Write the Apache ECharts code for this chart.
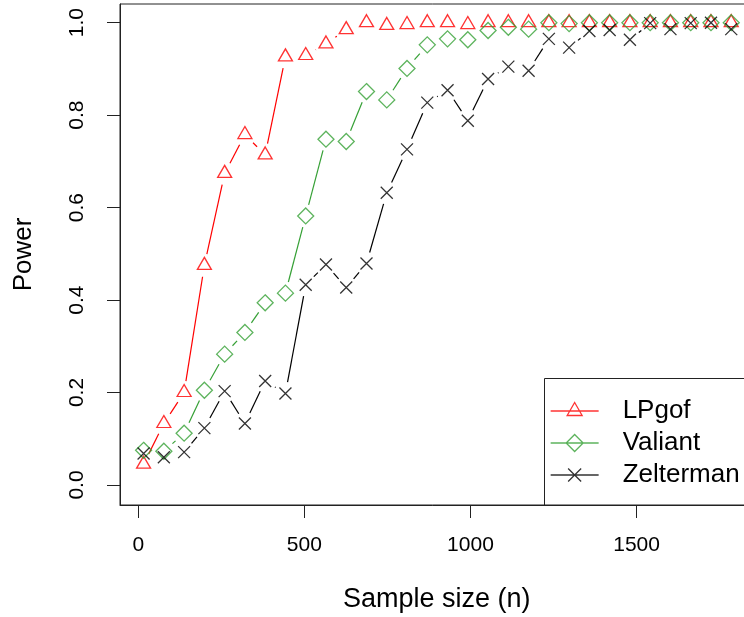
<!DOCTYPE html>
<html><head><meta charset="utf-8">
<script src="https://cdn.jsdelivr.net/npm/echarts@6/dist/echarts.min.js"></script>
<style>html,body{margin:0;padding:0;background:#fff}#c{width:744px;height:617px}</style>
</head><body><div id="c"></div>
<script>
// ---- data ----
const sampleSize = [16, 77, 138, 199, 260, 321, 382, 443, 504, 565, 626, 687, 748, 809, 870, 931, 992, 1053, 1114, 1175, 1236, 1297, 1358, 1419, 1480, 1541, 1602, 1663, 1724, 1785];
const lpgof = [0.045, 0.133, 0.200, 0.475, 0.674, 0.758, 0.714, 0.926, 0.929, 0.954, 0.985, 1.0, 0.994, 0.996, 1.0, 1.0, 0.996, 1.0, 1.0, 1.0, 1.0, 1.0, 1.0, 1.0, 1.0, 1.0, 1.0, 1.0, 1.0, 1.0];
const valiant = [0.075, 0.073, 0.112, 0.205, 0.283, 0.330, 0.394, 0.415, 0.582, 0.748, 0.743, 0.851, 0.833, 0.901, 0.952, 0.965, 0.963, 0.983, 0.990, 0.986, 1.0, 0.998, 1.0, 1.0, 1.0, 1.0, 1.0, 1.0, 1.0, 1.0];
const zelterman = [0.068, 0.060, 0.071, 0.123, 0.203, 0.133, 0.225, 0.198, 0.433, 0.477, 0.427, 0.479, 0.632, 0.726, 0.827, 0.854, 0.788, 0.878, 0.905, 0.896, 0.965, 0.946, 0.982, 0.984, 0.963, 0.999, 0.986, 0.999, 1.0, 0.986];
const seriesNames = ['LPgof', 'Valiant', 'Zelterman'];
const xTicks = [0, 500, 1000, 1500];
const yTicks = [0, 0.2, 0.4, 0.6, 0.8, 1.0];
const xTitle = 'Sample size (n)';
const yTitle = 'Power';

// ---- styling ----
const FONT = '"Liberation Sans", Arial, sans-serif';
const RED = '#FF0000', GREEN = '#35A035', BLACK = '#000000';
const AXIS = '#222222';
const GAP = 11.5;
const LW = 1.2;

function pts(ys) { return sampleSize.map((x, i) => [x, ys[i]]); }
function segs(ys) {
  const out = [];
  for (let i = 0; i < ys.length - 1; i++) out.push([sampleSize[i], ys[i], sampleSize[i + 1], ys[i + 1]]);
  return out;
}
function gapLine(color) {
  return function (params, api) {
    const p1 = api.coord([api.value(0), api.value(1)]);
    const p2 = api.coord([api.value(2), api.value(3)]);
    const dx = p2[0] - p1[0], dy = p2[1] - p1[1];
    const L = Math.hypot(dx, dy);
    if (L <= 2 * GAP) return { type: 'group', children: [] };
    const ux = dx / L, uy = dy / L;
    return {
      type: 'line',
      shape: { x1: p1[0] + ux * GAP, y1: p1[1] + uy * GAP, x2: p2[0] - ux * GAP, y2: p2[1] - uy * GAP },
      style: { stroke: color, lineWidth: LW, fill: null }
    };
  };
}
function lineSeries(name, ys, color) {
  return { type: 'custom', name: name + ' line', coordinateSystem: 'cartesian2d', data: segs(ys),
    renderItem: gapLine(color), silent: true, z: 2 };
}
const hollow = c => ({ color: 'rgba(0,0,0,0)', borderColor: c, borderWidth: 1.3 });

const chart = echarts.init(document.getElementById('c'), null, { renderer: 'canvas' });
chart.setOption({
  animation: false,
  backgroundColor: '#fff',
  grid: { left: 120, top: 4, right: -9.5, bottom: 112, show: true, borderColor: AXIS, borderWidth: 1,
    backgroundColor: 'rgba(0,0,0,0)', containLabel: false, outerBoundsMode: 'none' },
  xAxis: {
    type: 'value', min: -55, max: 1852,
    name: xTitle, nameLocation: 'middle', nameGap: 81,
    nameTextStyle: { fontSize: 27, fontFamily: FONT, color: '#000', lineHeight: 27 },
    axisLine: { show: true, onZero: false, lineStyle: { color: AXIS, width: 1 } },
    axisTick: { show: true, length: 13, customValues: xTicks, lineStyle: { color: AXIS, width: 1 } },
    axisLabel: { customValues: xTicks, formatter: v => String(v), fontSize: 21, lineHeight: 21,
      fontFamily: FONT, color: '#000', margin: 29.5 },
    splitLine: { show: false }
  },
  yAxis: {
    type: 'value', min: -0.0433, max: 1.0404,
    name: yTitle, nameLocation: 'middle', nameGap: 83, nameRotate: 90,
    nameTextStyle: { fontSize: 26, fontFamily: FONT, color: '#000', lineHeight: 26 },
    axisLine: { show: true, onZero: false, lineStyle: { color: AXIS, width: 1 } },
    axisTick: { show: true, length: 13, customValues: yTicks, lineStyle: { color: AXIS, width: 1 } },
    axisLabel: { customValues: yTicks, rotate: 90, formatter: v => v.toFixed(1), fontSize: 21, lineHeight: 21,
      fontFamily: FONT, color: '#000', margin: 32 },
    splitLine: { show: false }
  },
  legend: {
    orient: 'vertical', left: 550, top: 395, padding: 0, itemGap: 0,
    itemWidth: 48, itemHeight: 20, z: 6, selectedMode: false,
    textStyle: { fontSize: 26, fontFamily: FONT, color: '#000', lineHeight: 32, padding: [0, 0, 0, 19] },
    itemStyle: { borderWidth: 1.3 },
    data: [
      { name: seriesNames[0], icon: 'path://M0,0M48,20M0,10L48,10M24,1.5L31.5,14.5L16.5,14.5Z', itemStyle: hollow(RED) },
      { name: seriesNames[1], icon: 'path://M0,0M48,20M0,10L48,10M24,1.5L32.5,10L24,18.5L15.5,10Z', itemStyle: hollow(GREEN) },
      { name: seriesNames[2], icon: 'path://M0,0M48,20M0,10L48,10M17.5,3.5L30.5,16.5M30.5,3.5L17.5,16.5', itemStyle: hollow(BLACK) }
    ]
  },
  graphic: [{
    type: 'rect', z: 5, silent: true,
    shape: { x: 544.5, y: 378.5, width: 300, height: 126.5 },
    style: { fill: '#fff', stroke: AXIS, lineWidth: 1 }
  }],
  series: [
    lineSeries(seriesNames[0], lpgof, RED),
    lineSeries(seriesNames[1], valiant, GREEN),
    lineSeries(seriesNames[2], zelterman, BLACK),
    { type: 'scatter', name: seriesNames[0], data: pts(lpgof), symbol: 'triangle', symbolSize: [14, 12],
      symbolOffset: [0, -2], itemStyle: hollow(RED), silent: true, z: 3 },
    { type: 'scatter', name: seriesNames[1], data: pts(valiant), symbol: 'diamond', symbolSize: [16, 16],
      itemStyle: hollow(GREEN), silent: true, z: 3 },
    { type: 'scatter', name: seriesNames[2], data: pts(zelterman), symbol: 'path://M0,0L10,10M10,0L0,10',
      symbolSize: [12, 12], itemStyle: hollow(BLACK), silent: true, z: 3 }
  ]
});
</script>
</body></html>
